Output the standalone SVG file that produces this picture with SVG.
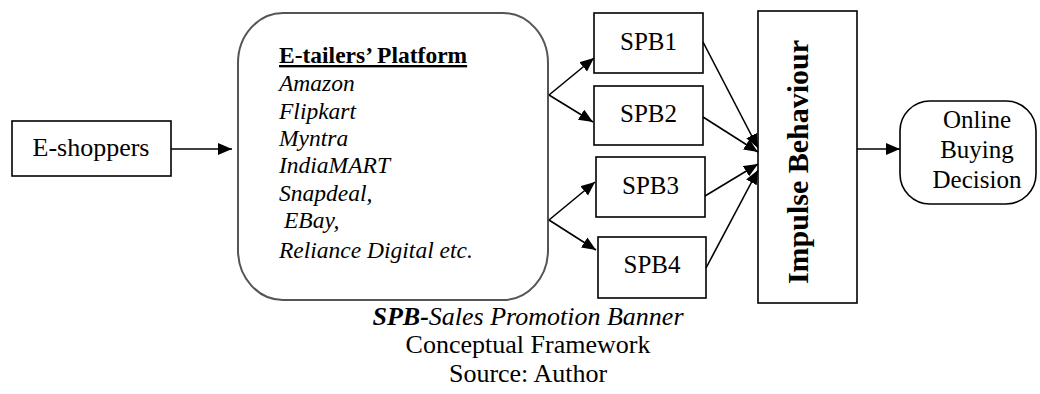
<svg xmlns="http://www.w3.org/2000/svg" width="1040" height="394" viewBox="0 0 1040 394" font-family="'Liberation Serif', 'Times New Roman', serif">
<style>
text{font-family:"Liberation Serif","Times New Roman",serif;fill:#000}
.box{fill:#fff;stroke:#000;stroke-width:1.6}
.plat{fill:#fff;stroke:#555;stroke-width:2}
.c{stroke:#000;stroke-width:1.6;fill:none;marker-end:url(#ah)}
.it{font-style:italic;font-size:23.5px}
.lbl{font-size:25px;text-anchor:middle}
</style>
<defs>
<marker id="ah" markerUnits="userSpaceOnUse" markerWidth="15" markerHeight="13" refX="14" refY="6" orient="auto">
<path d="M0,0 L14,6 L0,12 z" fill="#000"/>
</marker>
</defs>
<g id="eshoppers">
<rect class="box" x="12" y="121" width="159" height="55"/>
<text x="91" y="156" font-size="26" text-anchor="middle">E-shoppers</text>
</g>
<g id="platform">
<rect class="plat" x="238" y="13" width="310" height="287" rx="45" ry="50"/>
<text x="279" y="63" font-size="23.5" font-weight="bold" text-decoration="underline">E-tailers’ Platform</text>
<text class="it" x="279" y="91">Amazon</text>
<text class="it" x="279" y="119">Flipkart</text>
<text class="it" x="279" y="146">Myntra</text>
<text class="it" x="279" y="173">IndiaMART</text>
<text class="it" x="279" y="201">Snapdeal,</text>
<text class="it" x="284" y="228">EBay,</text>
<text class="it" x="279" y="258">Reliance Digital etc.</text>
</g>
<g id="spb1">
<rect class="box" x="594" y="13" width="109" height="60"/>
<text class="lbl" x="648.5" y="50">SPB1</text>
</g>
<g id="spb2">
<rect class="box" x="594" y="86" width="109" height="59"/>
<text class="lbl" x="648.5" y="122">SPB2</text>
</g>
<g id="spb3">
<rect class="box" x="596" y="157" width="109" height="60"/>
<text class="lbl" x="650.5" y="194">SPB3</text>
</g>
<g id="spb4">
<rect class="box" x="598" y="237" width="108" height="61"/>
<text class="lbl" x="652" y="273">SPB4</text>
</g>
<g id="impulse">
<rect class="box" x="758" y="11" width="99" height="292"/>
<text transform="translate(808,162) rotate(-90)" font-size="30" font-weight="bold" text-anchor="middle">Impulse Behaviour</text>
</g>
<g id="decision">
<rect class="box" x="900" y="101" width="136" height="103" rx="30"/>
<text class="lbl" x="977" y="128">Online</text>
<text class="lbl" x="977" y="158">Buying</text>
<text class="lbl" x="977" y="188">Decision</text>
</g>
<g id="connectors">
<line class="c" x1="171" y1="149" x2="232" y2="149"/>
<line class="c" x1="549" y1="95" x2="594" y2="58"/>
<line class="c" x1="549" y1="95" x2="593" y2="122"/>
<line class="c" x1="549" y1="220" x2="595" y2="182"/>
<line class="c" x1="549" y1="220" x2="596" y2="250"/>
<line class="c" x1="703" y1="42" x2="758" y2="148"/>
<line class="c" x1="703" y1="117" x2="758" y2="152"/>
<line class="c" x1="705" y1="196" x2="758" y2="164"/>
<line class="c" x1="706" y1="268" x2="758" y2="170"/>
<line class="c" x1="857" y1="149" x2="900" y2="149"/>
</g>
<g id="caption">
<text x="528" y="325" font-size="26" text-anchor="middle" font-style="italic"><tspan font-weight="bold">SPB-</tspan>Sales Promotion Banner</text>
<text x="528" y="353" font-size="26" text-anchor="middle">Conceptual Framework</text>
<text x="528" y="382" font-size="26" text-anchor="middle">Source: Author</text>
</g>
</svg>
